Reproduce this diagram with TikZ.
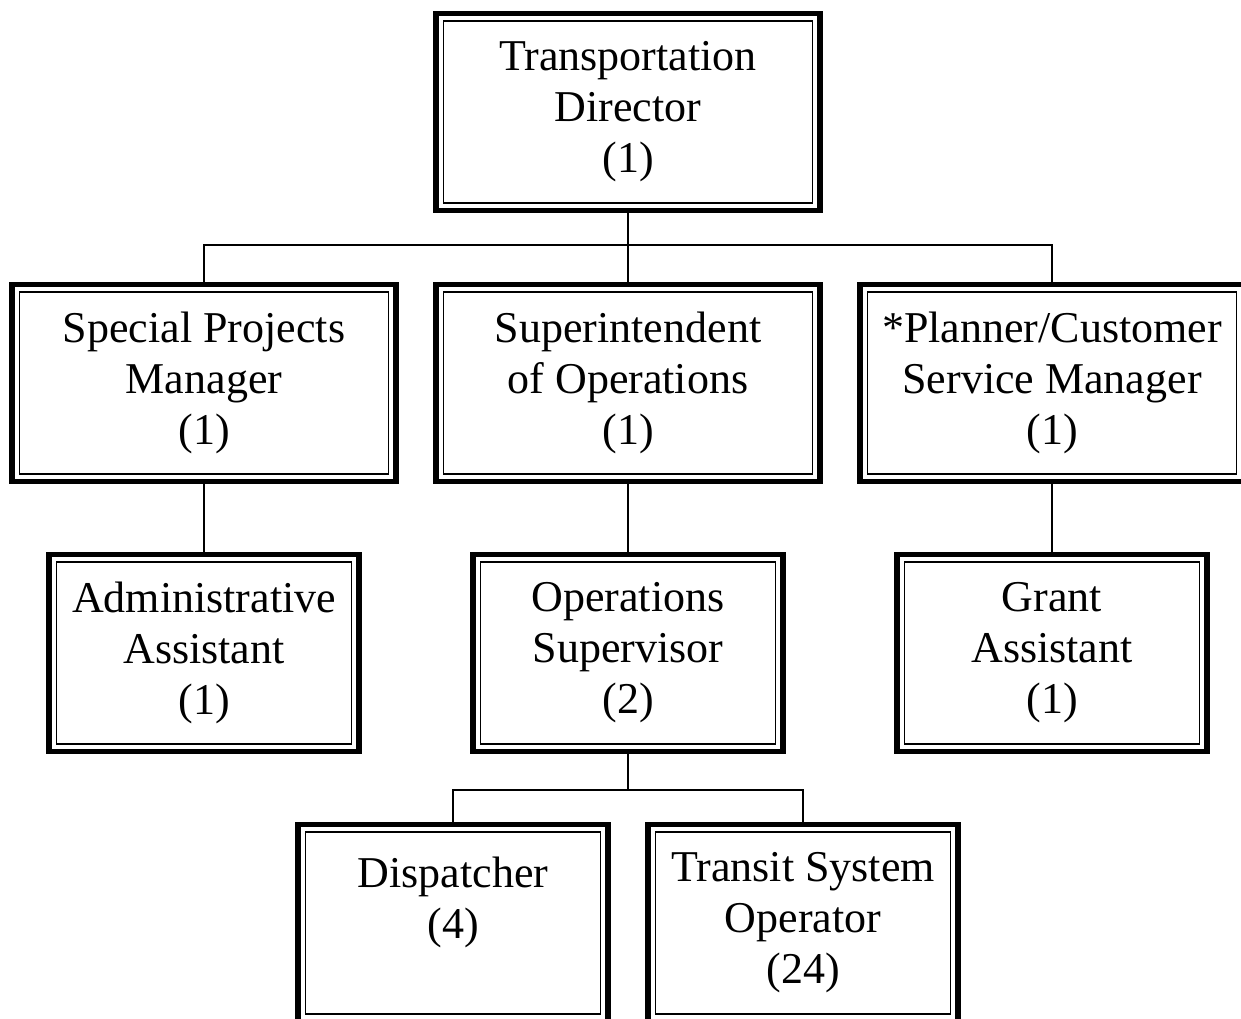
\documentclass[tikz,border=0pt]{standalone}
\usepackage{fontspec}
\setmainfont{Liberation Serif}
\usetikzlibrary{positioning}

\tikzset{
  post/.style={draw, line width=5.5, outer sep=0, inner sep=0, align=center,
    minimum height=197, font=\fontsize{44}{51}\selectfont},
  wide/.style={post, minimum width=384},
  narrow/.style={post, minimum width=310},
  link/.style={line width=2}
}

\begin{document}
\begin{tikzpicture}[x=1pt,y=-1pt]
			\useasboundingbox (0,0) rectangle (1241,1019);
			\clip (0,0) rectangle (1241,1019);
			\node[wide] (dir) at (628,112) {Transportation\\Director\\(1)};
			\node[wide] (spm) at (204,383) {Special Projects\\Manager\\(1)};
			\node[wide] (soo) at (628,383) {Superintendent\\of Operations\\(1)};
			\node[wide] (psm) at (1052,383) {*Planner/Customer\\Service Manager\\(1)};
			\node[narrow] (aa) at (204,653) {Administrative\\Assistant\\(1)};
			\node[narrow] (ops) at (628,653) {Operations\\Supervisor\\(2)};
			\node[narrow] (ga) at (1052,653) {Grant\\Assistant\\(1)};
			\node[narrow] (disp) at (453,923) {Dispatcher\\(4)\\\mbox{}};
			\node[narrow] (tso) at (803,923) {Transit System\\Operator\\(24)};
			\foreach \n in {dir,spm,soo,psm,aa,ops,ga,disp,tso}
			\draw[line width=1.6] ([shift={(7.5,7.5)}]\n.north west) rectangle ([shift={(-7.5,-7.5)}]\n.south east);
			\coordinate (bus1) at (628,245);
			\coordinate (bus2) at (628,790);
			\draw[link] (dir.south) -- (soo.north);
			\draw[link] (spm.north) |- (bus1) -| (psm.north);
			\draw[link] (spm.south) -- (aa.north);
			\draw[link] (soo.south) -- (ops.north);
			\draw[link] (psm.south) -- (ga.north);
			\draw[link] (ops.south) -- (bus2);
			\draw[link] (disp.north) |- (bus2) -| (tso.north);
\end{tikzpicture}
\end{document}
